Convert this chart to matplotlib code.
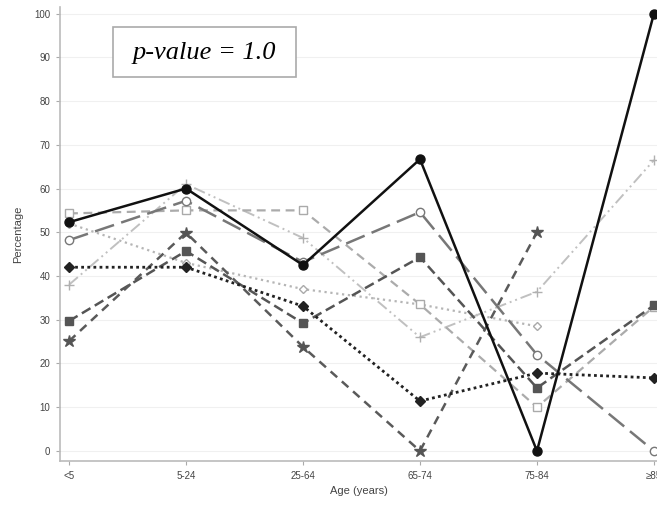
import matplotlib
matplotlib.use('Agg')
import matplotlib.pyplot as plt
from matplotlib.patches import Rectangle

plt.rcParams['font.family'] = ['Liberation Sans', 'DejaVu Sans']

age_groups = ['<5', '5-24', '25-64', '65-74', '75-84', '≥85']

# values (percentage)
black_circle = [52.3, 60, 42.5, 66.7, 0, 100]
light_square = [54.3, 55, 55, 33.5, 10, 33]
gray_circle = [48.2, 57.2, 43.2, 54.6, 22, 0]
light_plus = [38, 61, 48.7, 26, 36.4, 66.5]
light_diamond = [52, 43, 37, 33.5, 28.5]
black_diamond = [42, 42, 33.1, 11.4, 17.8, 16.7]
dark_square = [29.7, 45.7, 29.2, 44.3, 14.4, 33.3]
dark_star = [25.1, 49.9, 23.8, 0, 50]

fig = plt.figure(figsize=(6.57, 5.05), dpi=100)
ax = fig.add_axes([60 / 657, 44 / 505, 597 / 657, 454 / 505])
x = list(range(len(age_groups)))

ax.plot(x[:5], light_diamond, color='#b5b5b5', ls=':', lw=1.6, marker='D', ms=4.5,
        mfc='white', mec='#aaaaaa', mew=1, zorder=2)
ax.plot(x, light_plus, color='#c0c0c0', ls=(0, (6, 2, 1, 2, 1, 2)), lw=1.4, marker='+',
        ms=7, mec='#b0b0b0', mew=1, zorder=2)
ax.plot(x, light_square, color='#ababab', ls=(0, (4, 2.5)), lw=1.6, marker='s', ms=6,
        mfc='white', mec='#aaaaaa', mew=1, zorder=3)
ax.plot(x, gray_circle, color='#777777', ls=(0, (8, 3)), lw=1.8, marker='o', ms=6,
        mfc='white', mec='#777777', mew=1, zorder=3)
ax.plot(x, dark_square, color='#555555', ls=(0, (4, 2)), lw=1.8, marker='s', ms=6,
        mfc='#555555', mec='#555555', zorder=4)
ax.plot(x[:5], dark_star, color='#5a5a5a', ls=(0, (3.5, 2.5)), lw=1.8, marker='*', ms=9,
        mfc='#555555', mec='#555555', zorder=4)
ax.plot(x, black_diamond, color='#222222', ls=(0, (1, 1.2)), lw=2.0, marker='D', ms=5.5,
        mfc='#222222', mec='#222222', zorder=5)
ax.plot(x, black_circle, color='#111111', ls='-', lw=1.8, marker='o', ms=6.5,
        mfc='#111111', mec='#111111', zorder=6)

ax.set_xlim(-0.077, 5.026)
ax.set_ylim(-2.3, 101.5)
ax.set_xticks(x)
ax.set_xticklabels(age_groups)
ax.set_yticks(range(0, 101, 10))
ax.tick_params(labelsize=7, length=3, width=0.8, color='#aaaaaa', pad=4)
for lbl in ax.get_xticklabels() + ax.get_yticklabels():
    lbl.set_color('#444444')
ax.grid(axis='y', color='#f0f0f0', lw=0.8)
ax.set_axisbelow(True)
for s in ['top', 'right']:
    ax.spines[s].set_visible(False)
for s in ['left', 'bottom']:
    ax.spines[s].set_color('#bbbbbb')
    ax.spines[s].set_linewidth(1.2)

ax.set_xlabel('Age (years)', fontsize=8, color='#444444', labelpad=4)
ax.set_ylabel('Percentage', fontsize=8, color='#444444', labelpad=8)

# p-value annotation box
ax.add_patch(Rectangle((0.0888, 0.8458), 0.3065, 0.110, transform=ax.transAxes,
                       fc='white', ec='#aaaaaa', lw=1.2, zorder=7))
ax.text(0.242, 0.899, 'p-value = 1.0', transform=ax.transAxes, fontsize=19,
        family='Liberation Serif', style='italic', ha='center', va='center', zorder=8)

fig.savefig('out.png', dpi=100)
